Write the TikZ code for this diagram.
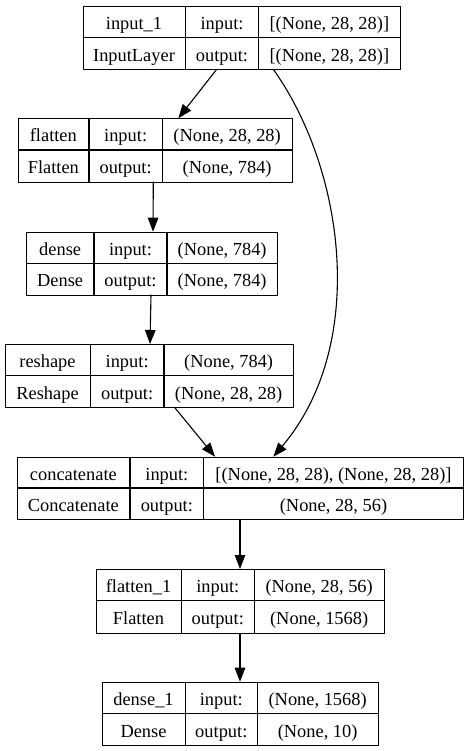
\documentclass[tikz,border=0pt]{standalone}
\usepackage{fontspec}
\setmainfont{Liberation Serif}
\usetikzlibrary{arrows.meta}
\tikzset{
  boxframe/.style={draw=black, line width=1.1pt, inner sep=0pt, fill=none},
  cellline/.style={draw=black, line width=1.1pt},
  celltext/.style={anchor=base, inner sep=0pt, font=\fontsize{18.4}{20}\selectfont},
  conn/.style={draw=black, line width=1.1pt, -{Triangle[length=14pt,width=10.5pt]}}
}
% name x0 xa xb x1 y0 y1
\newcommand\layerbox[7]{%
  \pgfmathsetmacro\lw{#5-#2}\pgfmathsetmacro\lh{#7-#6}%
  \pgfmathsetmacro\ym{(#6+#7)/2}%
  \pgfmathsetmacro\ca{(#2+#3)/2}\pgfmathsetmacro\cb{(#3+#4)/2}\pgfmathsetmacro\cc{(#4+#5)/2}%
  \pgfmathsetmacro\yt{(#6+\ym)/2+7.8}\pgfmathsetmacro\yb{(\ym+#7)/2+7.8}%
  \node[boxframe, minimum width=\lw pt, minimum height=\lh pt, anchor=north west] (#1) at (#2,#6) {};
  \draw[cellline] (#2,\ym) -- (#5,\ym) (#3,#6) -- (#3,#7) (#4,#6) -- (#4,#7);
}
% name t1 t2 t3 t4 t5 t6
\newcommand\layertext[7]{%
  \node[celltext] (#1-a) at (\ca,\yt) {#2};
  \node[celltext] (#1-b) at (\cb,\yt) {#3};
  \node[celltext] (#1-c) at (\cc,\yt) {#4};
  \node[celltext] (#1-d) at (\ca,\yb) {#5};
  \node[celltext] (#1-e) at (\cb,\yb) {#6};
  \node[celltext] (#1-f) at (\cc,\yb) {#7};
}
\begin{document}
\begin{tikzpicture}[x=1pt,y=-1pt]
\useasboundingbox[fill=white] (0,0) rectangle (468,751);

\layerbox{in1}{82.7}{185.3}{258.7}{400}{5.7}{69.3}
\layertext{in1}{input\_1}{input:}{[(None, 28, 28)]}{InputLayer}{output:}{[(None, 28, 28)]}

\layerbox{fl}{17.7}{89}{162.3}{292}{118.3}{181.7}
\layertext{fl}{flatten}{input:}{(None, 28, 28)}{Flatten}{output:}{(None, 784)}

\layerbox{de}{26.3}{94}{167}{277.3}{231.7}{294.7}
\layertext{de}{dense}{input:}{(None, 784)}{Dense}{output:}{(None, 784)}

\layerbox{rs}{4.7}{90.3}{164}{293.3}{344}{407}
\layertext{rs}{reshape}{input:}{(None, 784)}{Reshape}{output:}{(None, 28, 28)}

\layerbox{cc}{16.7}{130}{203.7}{463.3}{456.7}{519.3}
\layertext{cc}{concatenate}{input:}{[(None, 28, 28), (None, 28, 28)]}{Concatenate}{output:}{(None, 28, 56)}

\layerbox{fl1}{95.7}{181.3}{254.3}{384}{569}{632.7}
\layertext{fl1}{flatten\_1}{input:}{(None, 28, 56)}{Flatten}{output:}{(None, 1568)}

\layerbox{de1}{101.7}{185.3}{257.3}{378}{681.7}{745.3}
\layertext{de1}{dense\_1}{input:}{(None, 1568)}{Dense}{output:}{(None, 10)}

% connector end points
\coordinate (in1-o1) at (216.7,69.3);
\coordinate (fl-i)   at (178.3,118.3);
\coordinate (in1-o2) at (273.3,69.3);
\coordinate (cc-i2)  at (273.3,456.7);
\coordinate (fl-o)   at (153.3,181.7);
\coordinate (de-i)   at (153,231.7);
\coordinate (de-o)   at (151,294.7);
\coordinate (rs-i)   at (150,344);
\coordinate (rs-o)   at (174.3,407);
\coordinate (cc-i1)  at (215,456.7);
\coordinate (cc-o)   at (240,519.3);
\coordinate (fl1-i)  at (240,569);
\coordinate (fl1-o)  at (240,632.7);
\coordinate (de1-i)  at (240,681.7);

\draw[conn] (in1-o1) -- (fl-i);
\draw[conn] (in1-o2) .. controls (345,170) and (368,345) .. (cc-i2);
\draw[conn] (fl-o) -- (de-i);
\draw[conn] (de-o) -- (rs-i);
\draw[conn] (rs-o) -- (cc-i1);
\draw[conn] (cc-o) -- (fl1-i);
\draw[conn] (fl1-o) -- (de1-i);
\end{tikzpicture}
\end{document}
